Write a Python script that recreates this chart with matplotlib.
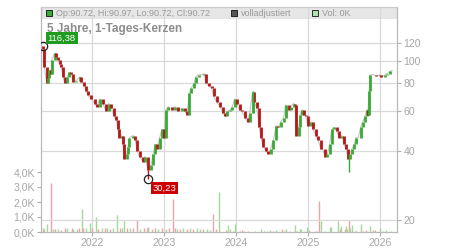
import matplotlib
matplotlib.use("Agg")
import matplotlib.pyplot as plt
from matplotlib.patches import Rectangle
from matplotlib.ticker import NullLocator

plt.rcParams['font.family'] = ['Liberation Sans', 'DejaVu Sans']

# ----- Daten -----
# Zeit in Dezimaljahren, Schlusskurse
dates = [
    2021.32, 2021.34, 2021.37, 2021.39, 2021.41, 2021.43, 2021.44, 2021.48, 2021.50, 2021.53,
    2021.55, 2021.57, 2021.60, 2021.62, 2021.66, 2021.68, 2021.71, 2021.74, 2021.78, 2021.83,
    2021.85, 2021.89, 2021.92, 2021.94, 2021.99, 2022.04, 2022.07, 2022.11, 2022.15, 2022.20,
    2022.23, 2022.27, 2022.31, 2022.34, 2022.36, 2022.38, 2022.41, 2022.43, 2022.45, 2022.48,
    2022.50, 2022.52, 2022.57, 2022.60, 2022.63, 2022.66, 2022.71, 2022.74, 2022.78, 2022.82,
    2022.85, 2022.88, 2022.90, 2022.94, 2022.97, 2023.00, 2023.03, 2023.06, 2023.11, 2023.15,
    2023.20, 2023.25, 2023.29, 2023.32, 2023.35, 2023.38, 2023.42, 2023.44, 2023.48, 2023.52,
    2023.56, 2023.58, 2023.62, 2023.66, 2023.69, 2023.73, 2023.78, 2023.82, 2023.85, 2023.88,
    2023.92, 2023.95, 2023.98, 2024.01, 2024.05, 2024.08, 2024.13, 2024.16, 2024.19, 2024.23,
    2024.25, 2024.29, 2024.32, 2024.35, 2024.38, 2024.42, 2024.45, 2024.48, 2024.52, 2024.56,
    2024.59, 2024.62, 2024.66, 2024.69, 2024.73, 2024.76, 2024.80, 2024.82, 2024.84, 2024.87,
    2024.89, 2024.92, 2024.95, 2024.97, 2025.00, 2025.04, 2025.07, 2025.11, 2025.14, 2025.18,
    2025.20, 2025.24, 2025.27, 2025.30, 2025.33, 2025.36, 2025.40, 2025.43, 2025.47, 2025.50,
    2025.53, 2025.56, 2025.58, 2025.61, 2025.64, 2025.67, 2025.70, 2025.73, 2025.76, 2025.79,
    2025.82, 2025.83, 2025.85, 2025.86, 2025.91, 2025.95, 2026.00, 2026.02, 2026.07, 2026.10,
    2026.14, 2026.17,
]
closes = [
    113, 94, 80, 84, 91, 88, 101, 108, 104, 101,
    97, 94, 85, 80, 85, 89, 88, 81, 82, 85,
    81, 78, 74, 71, 68, 65, 63, 68, 65, 60,
    65, 62, 57, 55, 50, 46, 47, 43, 37, 39,
    42, 46, 47, 45, 40, 38, 36, 38, 33, 35,
    39, 43, 41, 46, 50, 46, 61, 63, 61, 63,
    60, 62, 60, 58, 72, 76, 80, 85, 87, 87,
    88, 80, 78, 76, 70, 66, 63, 59, 57, 60,
    61, 63, 68, 65, 61, 60, 56, 54, 59, 73,
    66, 62, 51, 46, 42, 40, 39, 41, 45, 52,
    51, 54, 56, 64, 61, 63, 65, 64, 47, 51,
    58, 61, 58, 57, 52, 54, 50, 47, 45, 41,
    41, 38, 39, 43, 50, 51, 49, 46, 47, 43,
    41, 37, 39, 41, 43, 46, 46, 51, 54, 57,
    61, 58, 74, 87, 87, 86, 87, 85, 87, 88,
    90, 90.72,
]
first_open = 116.38

hi_date, hi_val, hi_text = 2021.32, 116.38, "116,38"
lo_date, lo_val, lo_text = 2022.78, 30.23, "30,23"

# einzelne lange Dochte: (datum, tief, hoch, steigend)
wicks = [(2022.78, 30.23, 33, 0), (2025.565, 32.5, 39, 1), (2024.23, 59, 74, 1)]

# Volumen in Tausend
vol_dates = [
    2021.315, 2021.333, 2021.371, 2021.426, 2021.462, 2021.486, 2021.532, 2021.565, 2021.625, 2021.649,
    2021.718, 2021.740, 2021.796, 2021.824, 2021.857, 2021.879, 2021.917, 2021.972, 2021.996, 2022.056,
    2022.088, 2022.135, 2022.181, 2022.204, 2022.250, 2022.296, 2022.352, 2022.389, 2022.412, 2022.449,
    2022.490, 2022.528, 2022.574, 2022.621, 2022.667, 2022.722, 2022.760, 2022.782, 2022.829, 2022.875,
    2022.921, 2022.968, 2023.028, 2023.074, 2023.121, 2023.153, 2023.185, 2023.222, 2023.268, 2023.315,
    2023.361, 2023.407, 2023.454, 2023.500, 2023.546, 2023.593, 2023.639, 2023.685, 2023.722, 2023.764,
    2023.865, 2023.889, 2023.912, 2023.958, 2023.990, 2024.051, 2024.083, 2024.111, 2024.167, 2024.260,
    2024.343, 2024.389, 2024.435, 2024.468, 2024.514, 2024.560, 2024.639, 2024.667, 2024.699, 2024.746,
    2024.824, 2024.843, 2024.885, 2024.907, 2024.944, 2024.990, 2025.010, 2025.115, 2025.157, 2025.176,
    2025.232, 2025.301, 2025.315, 2025.417, 2025.440, 2025.463, 2025.510, 2025.532, 2025.546, 2025.565,
    2025.583, 2025.615, 2025.649, 2025.671, 2025.732, 2025.764, 2025.810, 2025.857, 2025.903, 2025.926,
    2025.996, 2026.042, 2026.088, 2026.157,
]
vol_k = [
    0.27, 0.2, 0.55, 3.27, 0.2, 0.2, 0.2, 0.15, 0.3, 0.25,
    0.3, 0.2, 0.2, 0.3, 1.53, 0.25, 0.3, 0.6, 0.3, 1.0,
    0.2, 0.3, 0.25, 0.25, 0.2, 0.3, 1.15, 0.3, 0.3, 0.78,
    0.3, 0.25, 0.3, 0.78, 0.2, 0.3, 0.3, 0.35, 0.2, 0.3,
    0.2, 0.25, 0.2, 0.25, 2.2, 0.3, 0.2, 0.2, 0.3, 0.2,
    0.3, 0.2, 0.25, 0.2, 0.2, 0.2, 0.15, 1.22, 0.2, 2.67,
    0.15, 0.45, 0.2, 0.1, 0.55, 0.1, 0.15, 0.1, 0.05, 0.1,
    0.2, 0.1, 0.1, 0.15, 0.1, 0.15, 0.2, 0.1, 0.2, 0.1,
    0.47, 0.1, 0.2, 0.2, 0.1, 0.33, 0.15, 0.1, 2.09, 0.76,
    0.05, 0.33, 0.33, 0.76, 0.2, 0.38, 0.2, 0.38, 0.2, 0.8,
    0.3, 0.47, 0.1, 0.1, 0.53, 0.1, 0.15, 0.38, 0.15, 0.15,
    0.3, 0.1, 0.15, 0.1,
]
vol_up = [
    1, 0, 1, 0, 1, 0, 1, 0, 0, 1,
    1, 0, 1, 0, 1, 0, 1, 1, 0, 1,
    0, 1, 0, 1, 0, 1, 1, 0, 1, 1,
    0, 1, 0, 0, 1, 0, 1, 0, 1, 0,
    1, 0, 1, 0, 0, 0, 1, 0, 1, 0,
    1, 0, 1, 1, 0, 1, 1, 0, 0, 1,
    0, 1, 1, 0, 1, 1, 0, 0, 1, 0,
    1, 0, 1, 1, 0, 1, 0, 1, 1, 0,
    1, 0, 1, 1, 1, 1, 0, 0, 0, 1,
    1, 1, 1, 1, 0, 1, 0, 1, 1, 0,
    1, 1, 0, 0, 1, 0, 0, 1, 0, 0,
    1, 1, 1, 1,
]

years = [2022, 2023, 2024, 2025, 2026]
price_ticks = [20, 40, 60, 80, 100, 120]
vol_ticks = [0, 1, 2, 3, 4]
vol_labels = ["0,0K", "1,0K", "2,0K", "3,0K", "4,0K"]

GREEN = "#3aa935"
RED = "#b51818"
GRID = "#d9d9d9"
TXT = "#a6a6a6"

fig = plt.figure(figsize=(4.5, 2.5), dpi=100)
ax = fig.add_axes([41 / 450, 18 / 250, 356 / 450, 225 / 250])
ax2 = ax.twinx()

# Volumen
ax.vlines(vol_dates, 0, vol_k,
          colors=["#a3d99b" if u else "#f0a2aa" for u in vol_up], lw=1.0, zorder=2)
ax.set_xlim(2021.292, 2026.236)
ax.set_ylim(0, 15)
ax.set_yticks(vol_ticks)
ax.set_yticklabels(vol_labels)
ax.set_xticks(years)
ax.set_xticklabels([str(y) for y in years])
ax.set_axisbelow(True)
ax.grid(True, axis="x", color=GRID, lw=0.9)

# Kopfzeile
ax.add_patch(Rectangle((0, 0.9467), 1, 0.0533, transform=ax.transAxes,
                       fc="#e6e6e6", ec="none", zorder=0.1))

# Kerzen
opens = [first_open] + closes[:-1]
ax2.plot(dates, closes, color="#c4c4c4", lw=0.8, zorder=2)
ax2.vlines(dates, opens, closes,
           colors=[GREEN if c >= o else RED for o, c in zip(opens, closes)],
           lw=2.0, zorder=3)
for d, lo, hi, up in wicks:
    ax2.vlines(d, lo, hi, colors=GREEN if up else RED, lw=1.0, zorder=3)

ax2.set_yscale("log")
ax2.set_ylim(17.7, 172.7)
ax2.set_yticks(price_ticks)
ax2.set_yticklabels([str(p) for p in price_ticks])
ax2.yaxis.set_minor_locator(NullLocator())
ax2.set_axisbelow(True)
ax2.grid(True, axis="y", color=GRID, lw=0.9)

# Hoch / Tief
for d, v in [(hi_date, hi_val), (lo_date, lo_val)]:
    ax2.plot(d, v, "o", ms=6, mfc="none", mec="#222222", mew=0.9, zorder=6)
ax2.annotate(hi_text, (hi_date, hi_val), xytext=(13.5, 5.8), textcoords="offset points",
             ha="center", va="center", fontsize=6.8, color="white", zorder=10,
             bbox=dict(boxstyle="square,pad=0.18", fc="#1f9c1f", ec="none"))
ax2.annotate(lo_text, (lo_date, lo_val), xytext=(12, -6.5), textcoords="offset points",
             ha="center", va="center", fontsize=6.8, color="white", zorder=10,
             bbox=dict(boxstyle="square,pad=0.18", fc="#cc0000", ec="none"))

# Titel und Legende
ax2.text(47 / 450, 1 - 29 / 250, "5 Jahre, 1-Tages-Kerzen", transform=fig.transFigure,
         fontsize=8.5, fontweight="bold", color="#8c8c8c", va="center", zorder=5)
legend = [(46, GREEN, "Op:90.72, Hi:90.97, Lo:90.72, Cl:90.72"),
          (231, "#555555", "volladjustiert"),
          (312, "#b2e0b0", "Vol: 0K")]
for x0, col, label in legend:
    ax2.add_patch(Rectangle((x0 / 450, 1 - 16 / 250), 6 / 450, 6 / 250, transform=fig.transFigure,
                            fc=col, ec="#111111", lw=0.6, zorder=5, clip_on=False))
    ax2.text((x0 + 9.5) / 450, 1 - 13 / 250, label, transform=fig.transFigure,
             fontsize=6.5, color="#9a9a9a", va="center", zorder=5)

for a in (ax, ax2):
    for s in a.spines.values():
        s.set_color("#b8b8b8")
        s.set_linewidth(0.8)
    a.spines["top"].set_color("#cccccc")

ax.tick_params(axis="both", labelsize=7.6, colors="#b0b0b0", labelcolor=TXT,
               length=3, width=0.8, pad=1.5)
ax2.tick_params(axis="y", labelsize=7.6, colors="#b0b0b0", labelcolor=TXT,
                length=3, width=0.8, pad=1.5)

fig.savefig("out.png", dpi=100)
